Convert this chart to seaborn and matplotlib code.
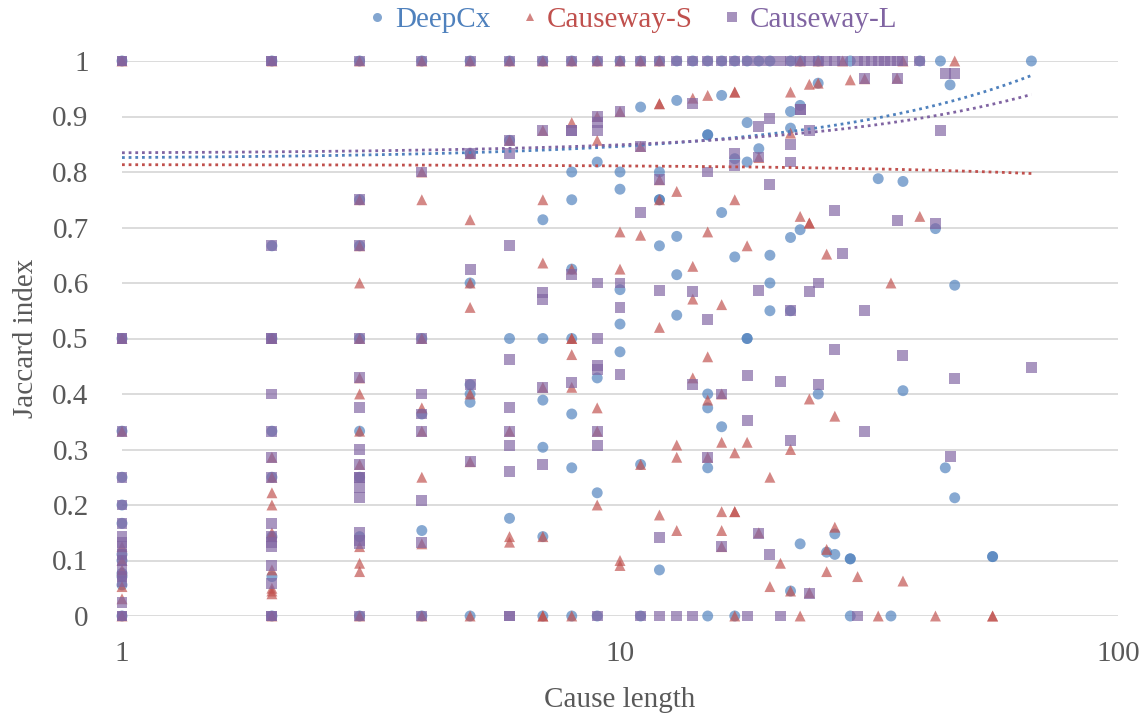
import numpy as np
import pandas as pd
import matplotlib
matplotlib.use("Agg")
import matplotlib.pyplot as plt
from matplotlib.lines import Line2D
import seaborn as sns

# ---- data: cause length vs. Jaccard index per explainer ----
deepcx_len = [
    1, 1, 1, 1, 1, 1, 1, 1, 1, 1, 1, 1,
    2, 2, 2, 2, 2, 2, 2, 2,
    3, 3, 3, 3, 3, 3, 3, 3,
    4, 4, 4, 4, 4,
    5, 5, 5, 5, 5, 5, 5,
    6, 6, 6, 6,
    7, 7, 7, 7, 7, 7, 7,
    8, 8, 8, 8, 8, 8, 8, 8,
    9, 9, 9, 9, 9,
    10, 10, 10, 10, 10, 10,
    11, 11, 11, 11,
    12, 12, 12, 12, 12, 12,
    13, 13, 13, 13, 13,
    14,
    15, 15, 15, 15, 15, 15, 15,
    16, 16, 16, 16,
    17, 17, 17, 17,
    18, 18, 18, 18, 18,
    19, 19,
    20, 20, 20, 20,
    22, 22, 22, 22, 22, 22,
    23, 23, 23, 23,
    25, 25, 25,
    26, 27, 27, 29, 29, 29, 29, 33, 35, 37, 37,
    40, 43, 44, 45, 46, 47, 47, 56, 56, 67,
]
deepcx_jac = [
    1, 0.5, 0.333, 0.25, 0.2, 0.167, 0.111, 0.1, 0.077, 0.071, 0.056, 0,
    1, 0.667, 0.5, 0.333, 0.25, 0.143, 0.071, 0,
    1, 0.75, 0.667, 0.5, 0.333, 0.25, 0.143, 0,
    1, 0.5, 0.364, 0.154, 0,
    1, 0.833, 0.6, 0.417, 0.4, 0.385, 0,
    1, 0.857, 0.5, 0.176,
    1, 0.714, 0.5, 0.389, 0.304, 0.143, 0,
    1, 0.8, 0.75, 0.625, 0.5, 0.364, 0.267, 0,
    1, 0.818, 0.429, 0.222, 0,
    1, 0.8, 0.769, 0.588, 0.526, 0.476,
    1, 0.917, 0.273, 0,
    1, 0.8, 0.75, 0.75, 0.667, 0.083,
    1, 0.929, 0.684, 0.615, 0.542,
    1,
    1, 0.867, 0.867, 0.4, 0.375, 0.267, 0,
    1, 0.938, 0.727, 0.341,
    1, 0.824, 0.647, 0,
    1, 0.889, 0.818, 0.5, 0.5,
    1, 0.842,
    1, 0.65, 0.6, 0.55,
    1, 0.909, 0.879, 0.682, 0.55, 0.045,
    1, 0.92, 0.696, 0.13,
    1, 0.96, 0.4,
    0.115, 0.148, 0.111, 1, 0.103, 0.103, 0, 0.788, 0, 0.783, 0.406,
    1, 0.698, 1, 0.267, 0.957, 0.596, 0.213, 0.107, 0.107, 1,
]

causeway_s_len = [
    1, 1, 1, 1, 1, 1, 1, 1, 1,
    2, 2, 2, 2, 2, 2, 2, 2, 2, 2, 2, 2, 2,
    3, 3, 3, 3, 3, 3, 3, 3, 3, 3, 3, 3, 3,
    4, 4, 4, 4, 4, 4, 4, 4, 4,
    5, 5, 5, 5, 5, 5, 5, 5,
    6, 6, 6, 6, 6,
    7, 7, 7, 7, 7, 7, 7, 7,
    8, 8, 8, 8, 8, 8, 8, 8,
    9, 9, 9, 9, 9, 9,
    10, 10, 10, 10, 10, 10,
    11, 11, 11, 11,
    12, 12, 12, 12, 12, 12, 12,
    13, 13, 13, 13,
    14, 14, 14, 14,
    15, 15, 15, 15, 15,
    16, 16, 16, 16, 16, 16,
    17, 17, 17, 17, 17, 17, 17,
    18, 18,
    19, 19,
    20, 20,
    21,
    22, 22, 22, 22,
    23, 23, 23,
    24, 24, 24, 24, 24,
    25, 25,
    26, 26, 26,
    27, 27,
    28, 29, 30, 31, 33, 35, 36, 37, 37, 40, 43, 47, 56, 56,
]
causeway_s_jac = [
    1, 0.5, 0.333, 0.125, 0.1, 0.083, 0.053, 0.031, 0,
    1, 0.5, 0.286, 0.25, 0.222, 0.2, 0.15, 0.143, 0.083, 0.05, 0.045, 0.04, 0,
    1, 0.75, 0.667, 0.6, 0.5, 0.429, 0.4, 0.333, 0.273, 0.125, 0.095, 0.08, 0,
    1, 0.8, 0.75, 0.5, 0.375, 0.333, 0.25, 0.13, 0,
    1, 0.833, 0.714, 0.6, 0.556, 0.4, 0.278, 0,
    1, 0.857, 0.333, 0.143, 0.133,
    1, 0.875, 0.75, 0.636, 0.412, 0.143, 0, 0,
    1, 0.889, 0.625, 0.5, 0.5, 0.471, 0.412, 0,
    1, 0.9, 0.857, 0.375, 0.333, 0.2,
    1, 0.909, 0.692, 0.625, 0.1, 0.091,
    1, 0.846, 0.686, 0.273,
    1, 0.923, 0.923, 0.786, 0.75, 0.52, 0.182,
    0.765, 0.308, 0.286, 0.154,
    0.933, 0.63, 0.571, 0.429,
    0.938, 0.692, 0.467, 0.389, 0.286,
    0.561, 0.4, 0.313, 0.188, 0.154, 0.125,
    0.944, 0.944, 0.75, 0.294, 0.188, 0.188, 0,
    0.667, 0.313,
    0.826, 0.15,
    0.25, 0.053,
    0.095,
    0.944, 0.87, 0.3, 0.045,
    1, 0.72, 0,
    0.958, 0.708, 0.708, 0.391, 0.042,
    1, 0.96,
    0.652, 0.12, 0.08,
    0.36, 0.16,
    1, 0.966, 0.071, 0.968, 0, 0.6, 0.969, 1, 0.063, 0.72, 0, 1, 0, 0,
]

causeway_l_len = [
    1, 1, 1, 1, 1, 1, 1, 1, 1, 1, 1, 1, 1, 1, 1, 1, 1, 1, 1,
    2, 2, 2, 2, 2, 2, 2, 2, 2, 2, 2, 2, 2, 2, 2, 2, 2,
    3, 3, 3, 3, 3, 3, 3, 3, 3, 3, 3, 3, 3, 3, 3, 3,
    4, 4, 4, 4, 4, 4, 4, 4, 4,
    5, 5, 5, 5, 5,
    6, 6, 6, 6, 6, 6, 6, 6, 6, 6, 6,
    7, 7, 7, 7, 7, 7,
    8, 8, 8, 8, 8,
    9, 9, 9, 9, 9, 9, 9, 9, 9, 9, 9,
    10, 10, 10, 10, 10,
    11, 11, 11, 11,
    12, 12, 12, 12, 12,
    13, 13,
    14, 14, 14, 14, 14,
    15, 15, 15, 15,
    16, 16, 16,
    17, 17, 17,
    18, 18, 18, 18,
    19, 19, 19, 19, 19,
    20, 20, 20, 20,
    21, 21, 21,
    22, 22, 22, 22, 22,
    23, 23, 23,
    24, 24, 24, 24,
    25, 25, 25,
    26,
    27, 27, 27,
    28, 28,
    30, 30,
    31, 31, 31, 31,
    32, 33, 34, 35,
    36, 36, 36,
    37, 37,
    40, 43, 44, 45, 46, 47, 47, 67,
]
causeway_l_jac = [
    1, 1, 0.5, 0.5, 0.333, 0.25, 0.2, 0.167, 0.143, 0.133, 0.125, 0.111, 0.1, 0.083, 0.071, 0.063, 0.025, 0, 0,
    1, 1, 0.667, 0.5, 0.5, 0.4, 0.333, 0.286, 0.25, 0.167, 0.143, 0.133, 0.125, 0.091, 0.059, 0, 0,
    1, 0.75, 0.667, 0.5, 0.429, 0.375, 0.3, 0.273, 0.25, 0.25, 0.231, 0.214, 0.15, 0.136, 0.13, 0,
    1, 0.8, 0.5, 0.4, 0.364, 0.333, 0.208, 0.133, 0,
    1, 0.833, 0.625, 0.417, 0.278,
    1, 0.857, 0.833, 0.667, 0.462, 0.375, 0.333, 0.308, 0.261, 0, 0,
    1, 0.875, 0.583, 0.571, 0.412, 0.273,
    1, 0.875, 0.875, 0.615, 0.421,
    1, 0.9, 0.889, 0.875, 0.6, 0.5, 0.452, 0.444, 0.333, 0.308, 0,
    1, 0.909, 0.6, 0.556, 0.435,
    1, 0.846, 0.727, 0,
    1, 0.786, 0.587, 0.141, 0,
    1, 0,
    1, 0.923, 0.584, 0.417, 0,
    1, 0.8, 0.534, 0.286,
    1, 0.4, 0.125,
    1, 0.833, 0.812,
    1, 0.434, 0.353, 0,
    1, 0.882, 0.827, 0.587, 0.149,
    1, 0.896, 0.778, 0.111,
    1, 0.422, 0,
    1, 0.85, 0.818, 0.55, 0.317,
    1, 0.912, 0.912,
    1, 0.875, 0.584, 0.041,
    1, 0.6, 0.417,
    1,
    1, 0.731, 0.481,
    1, 0.653,
    1, 0,
    1, 0.968, 0.551, 0.333,
    1, 1, 1, 1,
    1, 0.969, 0.713,
    1, 0.47,
    1, 0.708, 0.875, 0.977, 0.287, 0.977, 0.428, 0.448,
]

series_names = ["DeepCx", "Causeway-S", "Causeway-L"]
series_colors = ["#4F81BD", "#C0504D", "#8064A2"]
series_markers = ["o", "^", "s"]

# linear trend lines (y = intercept + slope * length) over the observed range
trend_intercept = [0.8238, 0.8134, 0.8331]
trend_slope = [0.00224, -0.00024, 0.00159]
trend_span = [1, 67]

x_ticks = [1, 10, 100]
y_ticks = [0, 0.1, 0.2, 0.3, 0.4, 0.5, 0.6, 0.7, 0.8, 0.9, 1]
y_tick_labels = ["0", "0.1", "0.2", "0.3", "0.4", "0.5", "0.6", "0.7", "0.8", "0.9", "1"]

# ---- build long-form frame ----
df = pd.concat([
    pd.DataFrame({"length": deepcx_len, "jaccard": deepcx_jac, "model": "DeepCx"}),
    pd.DataFrame({"length": causeway_s_len, "jaccard": causeway_s_jac, "model": "Causeway-S"}),
    pd.DataFrame({"length": causeway_l_len, "jaccard": causeway_l_jac, "model": "Causeway-L"}),
], ignore_index=True)

sns.set_theme(style="white")
plt.rcParams["font.family"] = ["Liberation Serif", "DejaVu Serif"]
text_color = "#595959"

fig = plt.figure(figsize=(11.46, 7.15), dpi=100)
ax = fig.add_axes([122 / 1146, 1 - 616 / 715, 996 / 1146, 555 / 715])

sns.scatterplot(
    data=df, x="length", y="jaccard", hue="model", style="model",
    hue_order=series_names, style_order=series_names,
    palette=dict(zip(series_names, series_colors)),
    markers=dict(zip(series_names, series_markers)),
    s=62, alpha=0.68, linewidth=0, legend=False, ax=ax, zorder=3,
)
for coll in ax.collections:
    coll.set_clip_on(False)

ax.set_xscale("log")
ax.set_xlim(1, 100)
ax.set_ylim(0, 1)

# dotted trend lines
xs = np.linspace(trend_span[0], trend_span[1], 300)
for name, color, b0, b1 in zip(series_names, series_colors, trend_intercept, trend_slope):
    ax.plot(xs, b0 + b1 * xs, color=color, lw=2.0, linestyle=(0, (1, 1.4)),
            zorder=4, clip_on=False)

# axes styling
ax.set_xticks(x_ticks)
ax.set_xticklabels([str(t) for t in x_ticks])
ax.xaxis.set_minor_locator(matplotlib.ticker.NullLocator())
ax.set_yticks(y_ticks)
ax.set_yticklabels(y_tick_labels)
ax.tick_params(axis="both", length=0, labelsize=21, labelcolor=text_color)
ax.tick_params(axis="y", pad=24)
ax.tick_params(axis="x", pad=18)
ax.grid(False)
ax.yaxis.grid(True, color="#d9d9d9", lw=1.3, zorder=0)
ax.set_axisbelow(True)
for sp in ax.spines.values():
    sp.set_visible(False)

ax.set_xlabel("Cause length", fontsize=21, color=text_color)
ax.set_ylabel("Jaccard index", fontsize=21, color=text_color)
ax.xaxis.set_label_coords(0.5, -0.128)
ax.yaxis.set_label_coords(-0.083, 0.5)

# legend across the top
handles = [
    Line2D([], [], linestyle="none", marker=m, color=c, alpha=0.7,
           markersize=6.5 if m != "^" else 6, markeredgewidth=0)
    for m, c in zip(series_markers, series_colors)
]
leg = fig.legend(handles, series_names, loc="center", bbox_to_anchor=(633 / 1146, 1 - 20 / 715),
                 ncol=3, frameon=False, fontsize=21, handlelength=0.6, handletextpad=0.3,
                 columnspacing=1.05, borderaxespad=0, borderpad=0)
for txt, c in zip(leg.get_texts(), series_colors):
    txt.set_color(c)

fig.savefig("out.png", dpi=100)
